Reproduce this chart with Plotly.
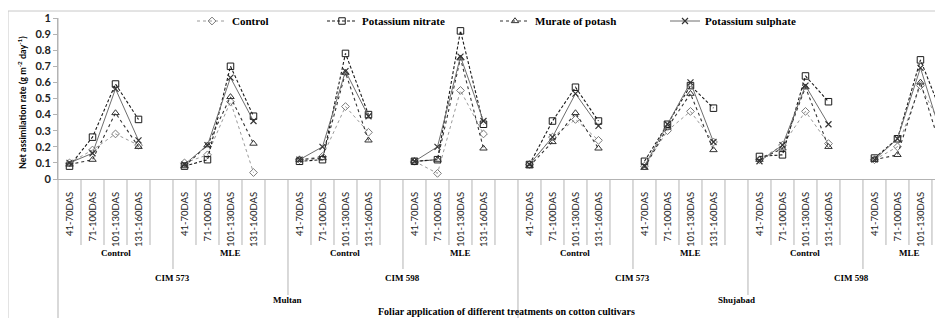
import plotly.graph_objects as go

# ---------------- data ----------------
locations = ["Multan", "Shujabad"]
cultivars = ["CIM 573", "CIM 598"]
applications = ["Control", "MLE"]
stages = ["41-70DAS", "71-100DAS", "101-130DAS", "131-160DAS"]

# values per group (location > cultivar > application), 4 stages each
control = [0.10, 0.18, 0.28, 0.21,  0.10, 0.15, 0.48, 0.04,
           0.12, 0.14, 0.45, 0.29,  0.11, 0.035, 0.55, 0.28,
           0.09, 0.26, 0.37, 0.24,  0.08, 0.30, 0.42, 0.23,
           0.12, 0.21, 0.42, 0.22,  0.12, 0.20, 0.58, 0.30]
potassium_nitrate = [0.08, 0.26, 0.59, 0.37,  0.08, 0.12, 0.70, 0.39,
                     0.11, 0.12, 0.78, 0.40,  0.11, 0.12, 0.92, 0.34,
                     0.09, 0.36, 0.57, 0.36,  0.11, 0.34, 0.58, 0.44,
                     0.14, 0.15, 0.64, 0.48,  0.13, 0.25, 0.74, 0.38]
murate_of_potash = [0.09, 0.12, 0.41, 0.20,  0.08, 0.21, 0.51, 0.22,
                    0.12, 0.13, 0.66, 0.24,  0.11, 0.12, 0.75, 0.19,
                    0.08, 0.23, 0.41, 0.19,  0.07, 0.32, 0.53, 0.18,
                    0.12, 0.19, 0.57, 0.20,  0.12, 0.15, 0.60, 0.14]
potassium_sulphate = [0.10, 0.16, 0.56, 0.24,  0.09, 0.21, 0.63, 0.36,
                      0.12, 0.20, 0.67, 0.39,  0.11, 0.20, 0.76, 0.36,
                      0.09, 0.26, 0.53, 0.33,  0.08, 0.34, 0.60, 0.23,
                      0.11, 0.21, 0.58, 0.34,  0.12, 0.25, 0.69, 0.23]

series_names = ["Control", "Potassium nitrate", "Murate of potash", "Potassium sulphate"]
series_values = [control, potassium_nitrate, murate_of_potash, potassium_sulphate]

# ---------------- category layout ----------------
NS = len(stages)
SLOTS = NS + 1  # one blank category after each group (Excel style)
groups = [(lo, cv, ap) for lo in locations for cv in cultivars for ap in applications]
n_slots = len(groups) * SLOTS
x_all = list(range(n_slots))


def to_slots(values):
    out = [None] * n_slots
    for g in range(len(groups)):
        for s in range(NS):
            out[g * SLOTS + s] = values[g * NS + s]
    return out


tickvals = [g * SLOTS + s for g in range(len(groups)) for s in range(NS)]
ticktext = [stages[s] for g in range(len(groups)) for s in range(NS)]

X_END = 37.98      # visible right end of the plot (image is cropped)
LABEL_END = 38.54  # extent used for centring the category labels

styles = [
    dict(line=dict(color="#9a9a9a", width=1, dash="dot"),
         marker=dict(symbol="diamond-open", size=6, color="#7a7a7a", line=dict(width=1))),
    dict(line=dict(color="#1a1a1a", width=1.1, dash="3px,2px"),
         marker=dict(symbol="square-open", size=6.5, color="#1a1a1a", line=dict(width=1))),
    dict(line=dict(color="#333333", width=1.1, dash="dot"),
         marker=dict(symbol="triangle-up-open", size=6.5, color="#333333", line=dict(width=1))),
    dict(line=dict(color="#6e6e6e", width=1, dash="solid"),
         marker=dict(symbol="x-thin-open", size=6, color="#333333", line=dict(width=1.2))),
]
legend_ids = ["legend", "legend2", "legend3", "legend4"]

fig = go.Figure()
for name, vals, st, lid in zip(series_names, series_values, styles, legend_ids):
    fig.add_trace(go.Scatter(
        x=x_all, y=to_slots(vals), name=name, mode="lines+markers",
        connectgaps=False, line=st["line"], marker=st["marker"], legend=lid,
    ))

# The page body has an 8px default margin, so the figure is 8px smaller
# than the window and all window-pixel positions are offset by 8.
BODY = 8
W, H = 943 - BODY, 318 - BODY
ML, MR, MT, MB = 58 - BODY, 0, 18 - BODY, 139
PW = W - ML - MR
PH = H - MT - MB


def px_x(px):
    return (px - BODY - ML) / PW


def px_y(py):
    return (H - MB - (py - BODY)) / PH


legend_font = dict(family="Liberation Serif", size=11, color="black", weight="bold")
legend_text_starts = [232, 362, 535, 705]
leg_layout = {}
for lid, ts in zip(legend_ids, legend_text_starts):
    leg_layout[lid] = dict(
        x=px_x(ts - 40), y=px_y(21), xanchor="left", yanchor="middle",
        orientation="h", font=legend_font, bgcolor="rgba(0,0,0,0)",
        borderwidth=0, itemwidth=30,
    )

shapes = []
sep_color = "#b3b3b3"
# slot boundary separators below the axis
for k in range(1, n_slots + 1):
    b = k - 0.5
    if k % (4 * SLOTS) == 0:
        y0 = -1.2
    elif k % (2 * SLOTS) == 0:
        y0 = px_y(295)
    elif k % SLOTS == 0:
        y0 = px_y(269)
    else:
        y0 = px_y(245)
    shapes.append(dict(type="line", xref="x", yref="paper", x0=b, x1=b, y0=0, y1=y0,
                       line=dict(color=sep_color, width=1)))
# left axis line extended downward
shapes.append(dict(type="line", xref="paper", yref="paper", x0=0, x1=0, y0=-1.2, y1=1,
                   line=dict(color=sep_color, width=1)))
# outer chart border (cropped on right/bottom)
shapes.append(dict(type="rect", xref="paper", yref="paper", x0=px_x(8), x1=1.2,
                   y0=-1.5, y1=px_y(11), line=dict(color="#c8c8c8", width=1),
                   fillcolor="rgba(0,0,0,0)", layer="below"))

cat_font = dict(family="Liberation Serif", size=9, color="black", weight="bold")
annotations = []


def centre(lo, hi):
    return (lo + min(hi, LABEL_END)) / 2


for g, (lo_name, cv, ap) in enumerate(groups):
    annotations.append(dict(x=centre(g * SLOTS - 0.5, g * SLOTS + SLOTS - 0.5), y=px_y(260),
                            xref="x", yref="paper", text=ap, showarrow=False, font=cat_font))
for c in range(len(locations) * len(cultivars)):
    span = 2 * SLOTS
    annotations.append(dict(x=centre(c * span - 0.5, c * span + span - 0.5), y=px_y(285),
                            xref="x", yref="paper", text=cultivars[c % 2], showarrow=False,
                            font=cat_font))
for l, loc in enumerate(locations):
    span = 4 * SLOTS
    annotations.append(dict(x=centre(l * span - 0.5, l * span + span - 0.5), y=px_y(307),
                            xref="x", yref="paper", text=loc, showarrow=False, font=cat_font))
annotations.append(dict(x=centre(-0.5, n_slots), y=px_y(318), xref="x", yref="paper",
                        yanchor="bottom", xanchor="center", borderpad=0,
                        text="Foliar application of different treatments on cotton cultivars",
                        showarrow=False,
                        font=dict(family="Liberation Serif", size=10, color="black", weight="bold")))
annotations.append(dict(x=px_x(22), y=px_y(103), xref="paper", yref="paper", textangle=-90,
                        xanchor="center", yanchor="middle",
                        text="Net assimilation rate (g m<sup>-2</sup> day<sup>-1</sup>)",
                        showarrow=False,
                        font=dict(family="Lato", size=9, color="black", weight="bold")))

fig.update_layout(
    width=W, height=H,
    margin=dict(l=ML, r=MR, t=MT, b=MB, pad=0, autoexpand=False),
    paper_bgcolor="white", plot_bgcolor="white",
    showlegend=True,
    shapes=shapes, annotations=annotations,
    xaxis=dict(range=[-0.5, X_END], tickmode="array", tickvals=tickvals, ticktext=ticktext,
               tickangle=-90, ticks="", showline=True, linecolor=sep_color, linewidth=1,
               showgrid=False, zeroline=False, ticklabelstandoff=8,
               tickfont=dict(family="Lato", size=9.5, color="#222222")),
    yaxis=dict(range=[0, 1], dtick=0.1, tick0=0, ticks="outside", ticklen=4,
               tickcolor=sep_color, showline=True, linecolor=sep_color, linewidth=1,
               showgrid=False, zeroline=False,
               tickfont=dict(family="Lato", size=11, color="#222222", weight="bold")),
    **leg_layout,
)

fig.write_html("out.html")
